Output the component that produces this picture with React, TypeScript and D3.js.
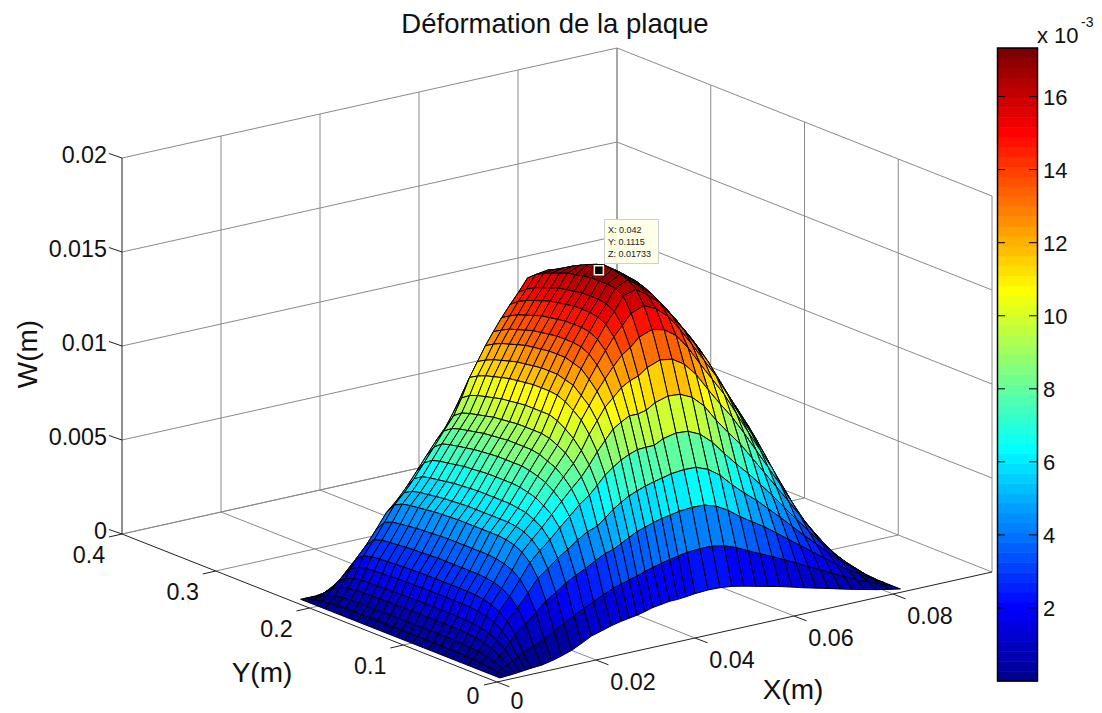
import React from "react";
import * as d3 from "d3";

const titleText = "Déformation de la plaque";
const xTicks = [0, 0.02, 0.04, 0.06, 0.08];
const xTickLabels = ["0", "0.02", "0.04", "0.06", "0.08"];
const yTicks = [0, 0.1, 0.2, 0.3, 0.4];
const yTickLabels = ["0", "0.1", "0.2", "0.3", "0.4"];
const zTicks = [0, 0.005, 0.01, 0.015, 0.02];
const zTickLabels = ["0", "0.005", "0.01", "0.015", "0.02"];
const cbTicks = [2, 4, 6, 8, 10, 12, 14, 16];
const plateLengthY = 0.2127;
const zMax = 0.01733;

// mesh lines along x (the mesh is finer near x = 0)
const xGrid = [0,0.00105,0.0021,0.00315,0.0042,0.00525,0.0063,0.0084,0.0105,0.0125,0.0145,0.0165,0.0185,0.0205,0.0225,0.0245,0.0261,0.0277,0.0293,0.0309,0.0325,0.0342,0.0359,0.0376,0.0394,0.042,0.04443,0.04686,0.04929,0.05172,0.05415,0.05658,0.05901,0.06144,0.06387,0.0663,0.06873,0.07116,0.07359,0.07602,0.07845,0.0809];

// deflection, in 1e-5 m: one row per x line, one column per y line
const W: number[][] = [
[0,0,0,0,0,0,0,0,0,0,0,0,0,0,0,0,0,0,0,0,0,0,0,0,0,0],
[2,8,17,22,26,28,29,30,30,30,30,30,30,30,30,30,30,29,29,29,28,27,24,17,8,0],
[4,20,39,52,60,65,68,69,70,70,70,70,70,70,70,69,69,68,68,67,66,63,56,41,19,0],
[6,34,66,89,103,112,116,119,120,120,120,120,120,120,119,119,118,117,116,115,113,108,96,70,32,0],
[9,48,94,126,146,158,165,168,170,170,170,170,170,170,169,168,167,166,164,162,160,153,136,99,46,0],
[12,64,127,170,198,214,223,228,230,230,230,230,230,230,229,228,227,224,222,220,216,207,180,125,58,0],
[15,81,160,215,249,270,281,287,290,290,290,290,290,290,289,287,286,283,280,277,273,261,226,155,72,0],
[19,104,204,274,318,344,359,366,370,370,370,370,370,370,368,366,364,361,357,353,348,333,288,200,92,0],
[30,129,253,340,396,428,446,455,460,460,460,460,460,460,458,455,453,449,444,439,432,414,362,255,118,0],
[45,160,302,407,473,512,534,545,550,550,550,550,550,550,547,545,542,536,531,525,517,495,438,315,146,0],
[62,190,336,445,525,567,592,604,610,610,610,610,610,610,607,604,601,595,589,583,573,549,488,354,165,0],
[88,218,374,490,571,619,646,666,673,680,680,680,680,680,677,673,670,663,656,649,639,612,548,404,188,0],
[115,243,403,524,623,676,707,733,745,756,760,760,760,760,756,752,749,741,733,726,714,684,618,460,214,0],
[130,269,428,563,672,735,773,802,819,832,840,840,840,840,836,832,827,819,811,802,790,756,690,520,240,0],
[146,293,458,595,723,791,837,869,888,906,915,915,915,915,910,906,901,892,883,874,860,830,760,580,270,0],
[158,317,485,614,762,842,896,936,960,980,990,990,990,990,985,980,975,965,955,945,931,900,825,640,298,0],
[165,329,497,648,805,896,956,1004,1037,1064,1080,1080,1080,1080,1075,1069,1064,1053,1042,1031,1015,985,895,665,310,0],
[172,342,519,684,850,956,1033,1092,1127,1156,1174,1180,1180,1180,1174,1168,1162,1151,1139,1127,1109,1085,975,710,330,0],
[182,353,542,712,882,1008,1096,1159,1197,1235,1247,1260,1260,1260,1254,1247,1241,1229,1216,1203,1184,1160,1050,770,355,0],
[194,369,563,737,911,1059,1159,1226,1273,1313,1327,1340,1340,1340,1333,1327,1320,1307,1293,1280,1260,1235,1120,830,385,0],
[200,381,578,754,931,1086,1199,1283,1340,1382,1403,1410,1410,1410,1403,1396,1389,1375,1361,1347,1325,1300,1190,890,410,0],
[207,392,592,770,947,1110,1243,1339,1406,1450,1473,1480,1480,1480,1473,1465,1458,1443,1428,1413,1391,1365,1260,950,440,0],
[208,403,605,783,950,1110,1270,1390,1470,1519,1542,1550,1550,1550,1542,1535,1527,1511,1496,1480,1457,1425,1320,1000,470,0],
[212,412,612,793,950,1120,1285,1420,1520,1578,1602,1610,1610,1610,1602,1594,1586,1570,1554,1538,1513,1480,1370,1030,480,0],
[218,420,622,805,975,1150,1320,1465,1575,1650,1675,1680,1680,1680,1672,1663,1655,1638,1621,1604,1580,1545,1420,1060,500,0],
[222,425,628,812,990,1170,1345,1490,1600,1670,1705,1718,1727,1733,1720,1702,1682,1660,1635,1610,1590,1540,1400,1030,480,0],
[220,424,626,810,985,1165,1335,1475,1570,1625,1655,1672,1685,1690,1685,1675,1660,1642,1622,1600,1570,1515,1370,1000,465,0],
[213,412,606,785,955,1135,1295,1430,1515,1570,1600,1620,1635,1640,1640,1630,1620,1605,1590,1570,1540,1480,1330,980,455,0],
[200,388,570,740,900,1075,1225,1350,1430,1485,1520,1545,1565,1578,1585,1582,1575,1562,1547,1527,1497,1437,1300,960,445,0],
[185,357,522,675,825,985,1130,1250,1335,1395,1435,1465,1490,1510,1525,1530,1525,1515,1500,1480,1450,1390,1250,900,415,0],
[170,327,480,617,755,905,1040,1155,1238,1298,1340,1375,1405,1428,1443,1450,1450,1443,1430,1410,1380,1325,1190,840,390,0],
[155,298,440,565,690,830,955,1060,1140,1200,1245,1285,1320,1345,1360,1370,1375,1370,1360,1340,1310,1260,1130,790,365,0],
[138,267,393,505,618,740,855,945,1020,1080,1128,1172,1210,1238,1260,1280,1292,1292,1285,1268,1240,1190,1020,710,330,0],
[120,235,345,445,545,650,750,830,900,960,1010,1060,1100,1130,1160,1190,1210,1215,1210,1195,1170,1120,960,670,310,0],
[104,202,297,382,467,560,645,720,785,845,898,940,985,1025,1060,1095,1120,1130,1128,1115,1092,1045,895,625,290,0],
[88,170,250,320,390,470,540,610,670,730,785,820,870,920,960,1000,1030,1045,1045,1035,1015,970,830,580,270,0],
[71,137,202,260,315,375,430,485,535,585,635,680,730,780,820,860,895,918,922,917,900,860,735,515,240,0],
[55,105,155,200,240,280,320,360,400,440,490,540,590,640,680,720,760,790,800,800,785,750,640,450,210,0],
[40,77,112,145,173,200,230,260,292,328,370,412,458,505,545,583,618,645,658,660,648,620,530,372,172,0],
[25,50,72,92,110,125,145,165,190,220,255,290,330,370,410,445,475,500,515,520,510,490,420,295,135,0],
[12,24,35,45,55,62,72,85,98,115,135,155,175,195,215,235,250,262,270,272,268,255,218,152,70,0],
[0,0,0,0,0,0,0,0,0,0,0,0,0,0,0,0,0,0,0,0,0,0,0,0,0,0],
];

const nX = W.length;
const nY = W[0].length;
const yGrid = d3.range(nY).map((j) => (j * plateLengthY) / (nY - 1));

// orthographic projection built from the three axis scales
const O = { x: 497, y: 682 };
const xUnit = d3.scaleLinear().domain([0, 0.1]).range([0, 1]);
const yUnit = d3.scaleLinear().domain([0, 0.4]).range([0, 1]);
const zUnit = d3.scaleLinear().domain([0, 0.02]).range([0, 1]);
const project = (x: number, y: number, z: number): [number, number] => [
  O.x + 495 * xUnit(x) - 375 * yUnit(y),
  O.y - 110 * xUnit(x) - 148 * yUnit(y) - 376 * zUnit(z),
];

const jetT = [0, 0.125, 0.375, 0.625, 0.875, 1];
const jetC = ["rgb(0,0,128)", "rgb(0,0,255)", "rgb(0,255,255)", "rgb(255,255,0)", "rgb(255,0,0)", "rgb(128,0,0)"];
const jetScale = d3.scaleLinear<string>().domain(jetT).range(jetC).interpolate(d3.interpolateRgb.gamma(1));
const jet = d3.range(64).map((i) => jetScale((i + 1) / 64));
const colorIndex = d3.scaleQuantize<number>().domain([0, zMax]).range(d3.range(64));

const cbY = d3.scaleLinear().domain([0, 17.33]).range([681, 48]);
const FONT = "'Liberation Sans', Arial, sans-serif";
const zBase = 0.00018;
const xShift = 0.0006;

const seg = (a: [number, number], b: [number, number]) => `M${a[0]},${a[1]}L${b[0]},${b[1]}`;

export default function App() {
  const grid: string[] = [];
  const xMax = 0.1, yMax = 0.4, zTop = 0.02;
  for (const x of xTicks.slice(1)) {
    grid.push(seg(project(x, 0, 0), project(x, yMax, 0)));
    grid.push(seg(project(x, yMax, 0), project(x, yMax, zTop)));
  }
  for (const y of yTicks.slice(1)) {
    grid.push(seg(project(0, y, 0), project(xMax, y, 0)));
    grid.push(seg(project(xMax, y, 0), project(xMax, y, zTop)));
  }
  for (const z of zTicks.slice(1)) {
    grid.push(seg(project(0, yMax, z), project(xMax, yMax, z)));
    grid.push(seg(project(xMax, yMax, z), project(xMax, 0, z)));
  }
  grid.push(seg(project(0, yMax, 0), project(xMax, yMax, 0)));
  grid.push(seg(project(xMax, yMax, 0), project(xMax, 0, 0)));
  grid.push(seg(project(xMax, yMax, 0), project(xMax, yMax, zTop)));
  grid.push(seg(project(xMax, 0, 0), project(xMax, 0, zTop)));

  const facets: { d: string; c: string }[] = [];
  for (let k = nX - 2; k >= 0; k--) {
    for (let j = nY - 2; j >= 0; j--) {
      const pts = [
        [k, j],
        [k + 1, j],
        [k + 1, j + 1],
        [k, j + 1],
      ].map(([a, b]) => project(xGrid[a] + xShift, yGrid[b], W[a][b] * 1e-5 + zBase));
      facets.push({
        d: "M" + pts.map((p) => p.join(",")).join("L") + "Z",
        c: jet[colorIndex(W[k][j] * 1e-5)],
      });
    }
  }

  const axisPath = [
    seg(project(0, 0, 0), project(xMax, 0, 0)),
    seg(project(0, 0, 0), project(0, yMax, 0)),
    seg(project(0, yMax, 0), project(0, yMax, zTop)),
  ];
  const ticks: string[] = [];
  for (const x of xTicks) {
    const p = project(x, 0, 0);
    ticks.push(seg(p, [p[0] + 12.5, p[1] + 4.8]));
  }
  for (const y of yTicks) {
    const p = project(0, y, 0);
    ticks.push(seg(p, [p[0] - 13, p[1] + 3]));
  }
  for (const z of zTicks) {
    const p = project(0, yMax, z);
    ticks.push(seg(p, [p[0] - 13, p[1] - 4.5]));
  }

  const peak = project(0.042, 0.1115, zMax);
  const bandH = (681 - 48) / 64;

  return (
    <svg width={1102} height={713} style={{ position: "absolute", left: 0, top: 0, background: "#fff" }} fontFamily={FONT}>
      <path d={grid.join("")} stroke="#8a8a8a" strokeWidth={1} fill="none" />
      <path d={axisPath.join("")} stroke="#222" strokeWidth={1} fill="none" />
      <path d={ticks.join("")} stroke="#222" strokeWidth={1} fill="none" />
      <g>
        {facets.map((f, i) => (
          <path key={i} d={f.d} fill={f.c} stroke="#000" strokeWidth={1} strokeLinejoin="round" />
        ))}
      </g>

      <text x={555} y={33} textAnchor="middle" fontSize={27.5} fill="#111">{titleText}</text>

      {zTicks.map((z, i) => {
        const p = project(0, yMax, z);
        return <text key={i} x={107} y={p[1] + 5} textAnchor="end" fontSize={23.3} fill="#111">{zTickLabels[i]}</text>;
      })}
      {yTicks.map((y, i) => {
        const p = project(0, y, 0);
        const off = i === 0 ? [-24, 22] : [-33, 29];
        return <text key={i} x={p[0] + off[0]} y={p[1] + off[1]} textAnchor="middle" fontSize={23.3} fill="#111">{yTickLabels[i]}</text>;
      })}
      {xTicks.map((x, i) => {
        const p = project(x, 0, 0);
        const off = i === 0 ? [20, 27] : [37, 30];
        return <text key={i} x={p[0] + off[0]} y={p[1] + off[1]} textAnchor="middle" fontSize={23.3} fill="#111">{xTickLabels[i]}</text>;
      })}

      <text transform="translate(37,354) rotate(-90)" textAnchor="middle" fontSize={28} fill="#111">W(m)</text>
      <text x={262} y={682} textAnchor="middle" fontSize={28} fill="#111">Y(m)</text>
      <text x={793} y={699} textAnchor="middle" fontSize={28} fill="#111">X(m)</text>

      {/* data tip */}
      <rect x={604.5} y={219.5} width={54} height={44} fill="#ffffe8" stroke="#d0d0d0" strokeWidth={1} />
      <g fontSize={9} fill="#222">
        <text x={608} y={233}>X: 0.042</text>
        <text x={608} y={245}>Y: 0.1115</text>
        <text x={608} y={257}>Z: 0.01733</text>
      </g>
      <rect x={peak[0] - 6} y={peak[1] - 3} width={9} height={9} fill="#000" stroke="#fff8e0" strokeWidth={1.5} />

      {/* colour bar */}
      {jet.map((c, i) => (
        <rect key={i} x={997} y={681 - (i + 1) * bandH} width={40} height={bandH + 0.5} fill={c} />
      ))}
      <rect x={997.5} y={48} width={40} height={633} fill="none" stroke="#000" strokeWidth={1.5} />
      {cbTicks.map((t) => (
        <g key={t}>
          <path d={`M997,${cbY(t)}h8M1037,${cbY(t)}h-8`} stroke="#000" strokeWidth={1} />
          <text x={1043} y={cbY(t) + 8} fontSize={22} fill="#111">{t}</text>
        </g>
      ))}
      <text x={1037} y={43} fontSize={22} fill="#111">x 10</text>
      <text x={1081} y={27} fontSize={14} fill="#111">-3</text>
    </svg>
  );
}
